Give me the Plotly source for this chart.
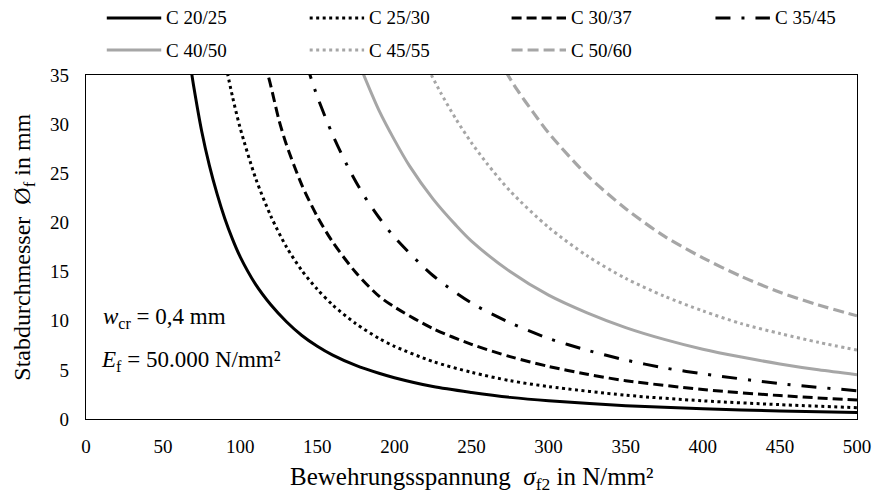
import plotly.graph_objects as go

# ---- data ----
x_c2025 = [68, 70, 75, 80, 85, 90, 95, 100, 110, 120, 130, 140, 150, 160, 175, 190, 200, 225, 250, 275, 300, 350, 400, 450, 500]
y_c2025 = [35.7, 33.7, 29.3, 25.8, 22.9, 20.4, 18.3, 16.5, 13.7, 11.6, 9.9, 8.5, 7.4, 6.5, 5.45, 4.65, 4.2, 3.3, 2.7, 2.2, 1.85, 1.36, 1.04, 0.82, 0.66]

x_c2530 = [90, 95, 100, 110, 120, 130, 140, 150, 160, 175, 190, 200, 225, 250, 275, 300, 350, 400, 450, 500]
y_c2530 = [36.5, 32.8, 29.6, 24.5, 20.6, 17.5, 15.1, 13.2, 11.6, 9.7, 8.2, 7.4, 5.85, 4.75, 3.9, 3.3, 2.42, 1.85, 1.46, 1.15]

x_c3037 = [116, 120, 125, 130, 140, 150, 160, 175, 190, 200, 225, 250, 275, 300, 325, 350, 400, 450, 500]
y_c3037 = [36.2, 33.8, 30.5, 27.9, 23.8, 20.6, 18.0, 14.9, 12.5, 11.4, 9.2, 7.6, 6.35, 5.35, 4.55, 3.9, 3.0, 2.38, 1.93]

x_c3545 = [143, 150, 160, 170, 180, 190, 200, 225, 250, 275, 300, 325, 350, 375, 400, 450, 500]
y_c3545 = [36.1, 32.8, 28.9, 25.6, 22.8, 20.5, 18.5, 14.6, 11.8, 9.8, 8.2, 7.0, 6.0, 5.2, 4.6, 3.6, 2.88]

x_c4050 = [178, 190, 200, 210, 225, 240, 250, 275, 300, 325, 350, 375, 400, 425, 450, 475, 500]
y_c4050 = [35.8, 31.4, 28.4, 25.7, 22.4, 19.7, 18.1, 15.0, 12.6, 10.8, 9.3, 8.1, 7.1, 6.3, 5.6, 5.0, 4.5]

x_c4555 = [222, 230, 240, 250, 260, 275, 300, 325, 350, 375, 400, 425, 450, 475, 500]
y_c4555 = [35.6, 33.2, 30.5, 28.1, 26.0, 23.2, 19.5, 16.6, 14.3, 12.5, 11.0, 9.7, 8.7, 7.8, 7.02]

x_c5060 = [272, 280, 290, 300, 325, 350, 375, 400, 425, 450, 475, 500]
y_c5060 = [35.4, 33.4, 31.2, 29.1, 24.8, 21.4, 18.6, 16.4, 14.5, 12.9, 11.6, 10.5]

names = ["C 20/25", "C 25/30", "C 30/37", "C 35/45", "C 40/50", "C 45/55", "C 50/60"]
xs = [x_c2025, x_c2530, x_c3037, x_c3545, x_c4050, x_c4555, x_c5060]
ys = [y_c2025, y_c2530, y_c3037, y_c3545, y_c4050, y_c4555, y_c5060]

x_ticks = [0, 50, 100, 150, 200, 250, 300, 350, 400, 450, 500]
y_ticks = [0, 5, 10, 15, 20, 25, 30, 35]

# ---- styles ----
BLACK = "#000000"
GRAY = "#A6A6A6"
styles = [
    (BLACK, "solid", 3),
    (BLACK, "3px,3.5px", 3),
    (BLACK, "10px,5px", 3),
    (BLACK, "15px,11px,3px,11px", 3),
    (GRAY, "solid", 3),
    (GRAY, "3px,3.5px", 3),
    (GRAY, "11px,5px", 3.2),
]
FONT = "Liberation Serif, Times New Roman, serif"

W, H = 883, 495
L, R, T, B = 86, 18, 75, 76
PW, PH = W - L - R, H - T - B


def px(xp):
    return (xp - L) / PW


def py(yp):
    return (H - B - yp) / PH


fig = go.Figure()
for n, x, y, (c, d, w) in zip(names, xs, ys, styles):
    fig.add_trace(go.Scatter(x=x, y=y, mode="lines", name=n,
                             line=dict(color=c, dash=d, width=w, shape="spline", smoothing=0.8),
                             showlegend=False, hoverinfo="skip"))

shapes = []
annotations = []
col_x = [107, 312, 516, 722]
row_y = [18, 50]
for i, (n, (c, d, w)) in enumerate(zip(names, styles)):
    r, k = divmod(i, 4)
    x0 = col_x[k]
    yy = row_y[r]
    shapes.append(dict(type="line", xref="paper", yref="paper",
                       x0=px(x0), x1=px(x0 + 55), y0=py(yy), y1=py(yy),
                       line=dict(color=c, dash=d, width=w)))
    annotations.append(dict(xref="paper", yref="paper", x=px(x0 + 58), y=py(yy),
                            xanchor="left", yanchor="middle", showarrow=False,
                            text=n, font=dict(family=FONT, size=19, color="#000")))

annotations += [
    dict(xref="paper", yref="paper", x=px(101), y=py(318), xanchor="left", yanchor="middle",
         showarrow=False, text="<i>w</i><sub>cr</sub> = 0,4 mm",
         font=dict(family=FONT, size=23, color="#000")),
    dict(xref="paper", yref="paper", x=px(99), y=py(361), xanchor="left", yanchor="middle",
         showarrow=False, text="<i>E</i><sub>f</sub> = 50.000 N/mm²",
         font=dict(family=FONT, size=23, color="#000")),
    dict(xref="paper", yref="paper", x=px(476), y=py(478), xanchor="center", yanchor="middle",
         showarrow=False, text="Bewehrungsspannung  <i>σ</i><sub>f2</sub> in N/mm²",
         font=dict(family=FONT, size=25, color="#000")),
    dict(xref="paper", yref="paper", x=px(23), y=py(247), xanchor="center", yanchor="middle",
         showarrow=False, textangle=-90, text="Stabdurchmesser  Ø<sub>f</sub> in mm",
         font=dict(family=FONT, size=24, color="#000")),
]

fig.update_layout(
    width=W, height=H,
    margin=dict(l=L, r=R, t=T, b=B, pad=0),
    paper_bgcolor="white", plot_bgcolor="white",
    font=dict(family=FONT, size=18, color="#000"),
    shapes=shapes, annotations=annotations,
    showlegend=False,
)
fig.update_xaxes(range=[0, 500], tickvals=x_ticks, ticktext=[str(v) for v in x_ticks],
                 showgrid=False, zeroline=False, showline=True, mirror=True,
                 linecolor="#000", linewidth=1.3, ticks="", ticklabelstandoff=10,
                 tickfont=dict(family=FONT, size=19, color="#000"))
fig.update_yaxes(range=[0, 35], tickvals=y_ticks, ticktext=[str(v) for v in y_ticks],
                 showgrid=False, zeroline=False, showline=True, mirror=True,
                 linecolor="#000", linewidth=1.3, ticks="", ticklabelstandoff=12,
                 tickfont=dict(family=FONT, size=19, color="#000"))

fig.write_html("out.html")
